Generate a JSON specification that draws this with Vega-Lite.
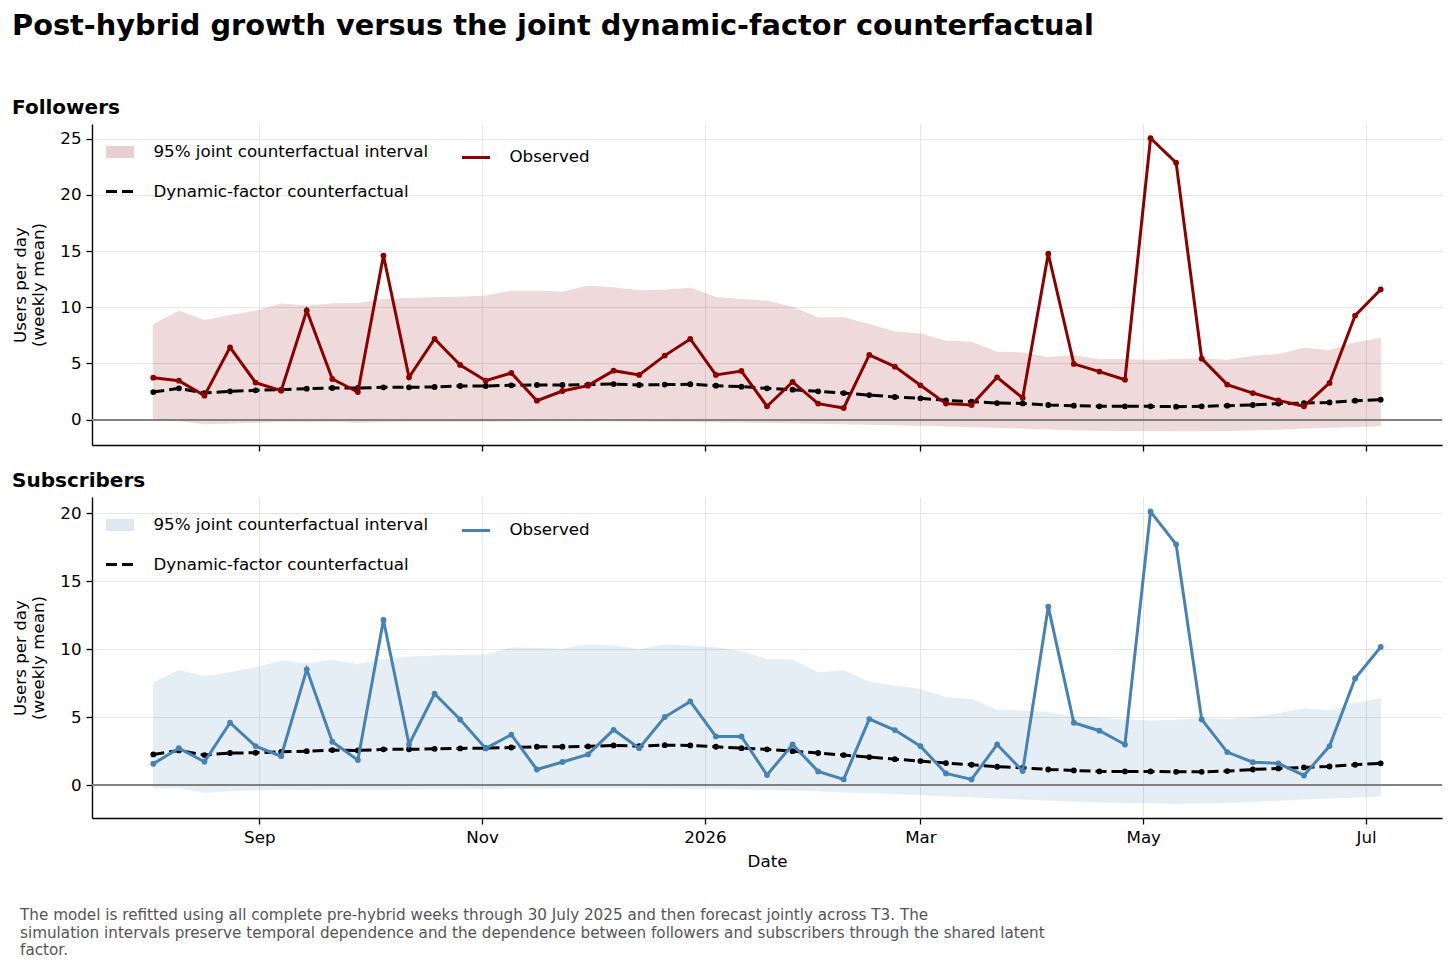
{
  "$schema": "https://vega.github.io/schema/vega-lite/v6.json",
  "padding": {"left": 12, "top": 12, "right": 10, "bottom": 5},
  "background": "white",
  "title": {
    "text": "Post-hybrid growth versus the joint dynamic-factor counterfactual",
    "anchor": "start",
    "fontSize": 28.8,
    "fontWeight": "bold",
    "color": "black",
    "offset": 57
  },
  "config": {
    "font": "DejaVu Sans",
    "view": {"stroke": null},
    "axis": {
      "labelFont": "DejaVu Sans",
      "labelFontSize": 16.7,
      "labelColor": "black",
      "titleFont": "DejaVu Sans",
      "titleFontSize": 16.7,
      "titleFontWeight": "normal",
      "titleColor": "black",
      "tickColor": "black",
      "domainColor": "black",
      "tickSize": 6,
      "tickWidth": 1.3,
      "domainWidth": 1.4,
      "gridColor": "#e6e6e6",
      "gridWidth": 1,
      "labelPadding": 5
    },
    "legend": {
      "orient": "top-left",
      "title": null,
      "columns": 2,
      "offset": 8,
      "padding": 0,
      "columnPadding": 27,
      "rowPadding": -16,
      "symbolType": "stroke",
      "symbolSize": 784,
      "labelFont": "DejaVu Sans",
      "labelFontSize": 16.7,
      "labelColor": "black",
      "labelOffset": 13.4,
      "labelLimit": 0
    }
  },
  "datasets": {
    "followers": [
      {"date": "2025-08-03", "observed": 3.74, "cf": 2.46, "lo": 0.0, "hi": 8.46},
      {"date": "2025-08-10", "observed": 3.47, "cf": 2.79, "lo": -0.09, "hi": 9.65},
      {"date": "2025-08-17", "observed": 2.14, "cf": 2.37, "lo": -0.36, "hi": 8.82},
      {"date": "2025-08-24", "observed": 6.44, "cf": 2.52, "lo": -0.30, "hi": 9.26},
      {"date": "2025-08-31", "observed": 3.30, "cf": 2.61, "lo": -0.22, "hi": 9.65},
      {"date": "2025-09-07", "observed": 2.58, "cf": 2.67, "lo": -0.15, "hi": 10.3},
      {"date": "2025-09-14", "observed": 9.71, "cf": 2.76, "lo": -0.18, "hi": 10.1},
      {"date": "2025-09-21", "observed": 3.62, "cf": 2.82, "lo": -0.15, "hi": 10.3},
      {"date": "2025-09-28", "observed": 2.46, "cf": 2.82, "lo": -0.22, "hi": 10.33},
      {"date": "2025-10-05", "observed": 14.6, "cf": 2.88, "lo": -0.18, "hi": 10.69},
      {"date": "2025-10-12", "observed": 3.77, "cf": 2.88, "lo": -0.15, "hi": 10.78},
      {"date": "2025-10-19", "observed": 7.18, "cf": 2.91, "lo": -0.15, "hi": 10.84},
      {"date": "2025-10-26", "observed": 4.87, "cf": 3.0, "lo": -0.14, "hi": 10.9},
      {"date": "2025-11-02", "observed": 3.47, "cf": 3.0, "lo": -0.14, "hi": 10.99},
      {"date": "2025-11-09", "observed": 4.16, "cf": 3.06, "lo": -0.12, "hi": 11.43},
      {"date": "2025-11-16", "observed": 1.69, "cf": 3.09, "lo": -0.1, "hi": 11.43},
      {"date": "2025-11-23", "observed": 2.55, "cf": 3.09, "lo": -0.09, "hi": 11.34},
      {"date": "2025-11-30", "observed": 3.03, "cf": 3.12, "lo": -0.1, "hi": 11.88},
      {"date": "2025-12-07", "observed": 4.36, "cf": 3.17, "lo": -0.11, "hi": 11.73},
      {"date": "2025-12-14", "observed": 3.98, "cf": 3.09, "lo": -0.12, "hi": 11.46},
      {"date": "2025-12-21", "observed": 5.70, "cf": 3.12, "lo": -0.15, "hi": 11.52},
      {"date": "2025-12-28", "observed": 7.18, "cf": 3.15, "lo": -0.17, "hi": 11.7},
      {"date": "2026-01-04", "observed": 3.98, "cf": 3.03, "lo": -0.19, "hi": 10.87},
      {"date": "2026-01-11", "observed": 4.33, "cf": 2.94, "lo": -0.21, "hi": 10.69},
      {"date": "2026-01-18", "observed": 1.19, "cf": 2.79, "lo": -0.25, "hi": 10.54},
      {"date": "2026-01-25", "observed": 3.36, "cf": 2.67, "lo": -0.28, "hi": 10.0},
      {"date": "2026-02-01", "observed": 1.43, "cf": 2.52, "lo": -0.32, "hi": 9.06},
      {"date": "2026-02-08", "observed": 1.04, "cf": 2.37, "lo": -0.36, "hi": 9.06},
      {"date": "2026-02-15", "observed": 5.76, "cf": 2.19, "lo": -0.4, "hi": 8.46},
      {"date": "2026-02-22", "observed": 4.72, "cf": 2.02, "lo": -0.45, "hi": 7.81},
      {"date": "2026-03-01", "observed": 3.06, "cf": 1.90, "lo": -0.5, "hi": 7.63},
      {"date": "2026-03-08", "observed": 1.43, "cf": 1.72, "lo": -0.55, "hi": 6.98},
      {"date": "2026-03-15", "observed": 1.31, "cf": 1.60, "lo": -0.62, "hi": 6.89},
      {"date": "2026-03-22", "observed": 3.77, "cf": 1.48, "lo": -0.68, "hi": 6.0},
      {"date": "2026-03-29", "observed": 1.93, "cf": 1.45, "lo": -0.74, "hi": 5.94},
      {"date": "2026-04-05", "observed": 14.76, "cf": 1.31, "lo": -0.82, "hi": 5.52},
      {"date": "2026-04-12", "observed": 4.96, "cf": 1.25, "lo": -0.9, "hi": 5.70},
      {"date": "2026-04-19", "observed": 4.28, "cf": 1.19, "lo": -0.93, "hi": 5.34},
      {"date": "2026-04-26", "observed": 3.56, "cf": 1.19, "lo": -0.95, "hi": 5.34},
      {"date": "2026-05-03", "observed": 25.03, "cf": 1.19, "lo": -0.97, "hi": 5.28},
      {"date": "2026-05-10", "observed": 22.86, "cf": 1.16, "lo": -0.98, "hi": 5.34},
      {"date": "2026-05-17", "observed": 5.43, "cf": 1.19, "lo": -0.98, "hi": 5.4},
      {"date": "2026-05-24", "observed": 3.12, "cf": 1.25, "lo": -0.95, "hi": 5.28},
      {"date": "2026-05-31", "observed": 2.37, "cf": 1.31, "lo": -0.9, "hi": 5.64},
      {"date": "2026-06-07", "observed": 1.72, "cf": 1.43, "lo": -0.84, "hi": 5.79},
      {"date": "2026-06-14", "observed": 1.19, "cf": 1.48, "lo": -0.74, "hi": 6.35},
      {"date": "2026-06-21", "observed": 3.27, "cf": 1.54, "lo": -0.68, "hi": 6.15},
      {"date": "2026-06-28", "observed": 9.26, "cf": 1.69, "lo": -0.6, "hi": 6.83},
      {"date": "2026-07-05", "observed": 11.58, "cf": 1.78, "lo": -0.53, "hi": 7.24}
    ],
    "subscribers": [
      {"date": "2025-08-03", "observed": 1.57, "cf": 2.26, "lo": -0.2, "hi": 7.53},
      {"date": "2025-08-10", "observed": 2.72, "cf": 2.55, "lo": -0.2, "hi": 8.44},
      {"date": "2025-08-17", "observed": 1.72, "cf": 2.21, "lo": -0.52, "hi": 7.98},
      {"date": "2025-08-24", "observed": 4.59, "cf": 2.36, "lo": -0.42, "hi": 8.27},
      {"date": "2025-08-31", "observed": 2.87, "cf": 2.38, "lo": -0.35, "hi": 8.64},
      {"date": "2025-09-07", "observed": 2.13, "cf": 2.45, "lo": -0.3, "hi": 9.13},
      {"date": "2025-09-14", "observed": 8.52, "cf": 2.50, "lo": -0.32, "hi": 8.93},
      {"date": "2025-09-21", "observed": 3.19, "cf": 2.58, "lo": -0.27, "hi": 9.18},
      {"date": "2025-09-28", "observed": 1.84, "cf": 2.55, "lo": -0.3, "hi": 8.88},
      {"date": "2025-10-05", "observed": 12.15, "cf": 2.63, "lo": -0.3, "hi": 9.25},
      {"date": "2025-10-12", "observed": 2.99, "cf": 2.63, "lo": -0.28, "hi": 9.42},
      {"date": "2025-10-19", "observed": 6.72, "cf": 2.67, "lo": -0.27, "hi": 9.50},
      {"date": "2025-10-26", "observed": 4.83, "cf": 2.70, "lo": -0.27, "hi": 9.55},
      {"date": "2025-11-02", "observed": 2.70, "cf": 2.72, "lo": -0.25, "hi": 9.57},
      {"date": "2025-11-09", "observed": 3.71, "cf": 2.77, "lo": -0.22, "hi": 10.09},
      {"date": "2025-11-16", "observed": 1.15, "cf": 2.82, "lo": -0.22, "hi": 10.06},
      {"date": "2025-11-23", "observed": 1.70, "cf": 2.82, "lo": -0.2, "hi": 9.99},
      {"date": "2025-11-30", "observed": 2.26, "cf": 2.85, "lo": -0.2, "hi": 10.33},
      {"date": "2025-12-07", "observed": 4.07, "cf": 2.92, "lo": -0.2, "hi": 10.23},
      {"date": "2025-12-14", "observed": 2.72, "cf": 2.87, "lo": -0.2, "hi": 9.96},
      {"date": "2025-12-21", "observed": 5.01, "cf": 2.94, "lo": -0.22, "hi": 10.31},
      {"date": "2025-12-28", "observed": 6.16, "cf": 2.92, "lo": -0.23, "hi": 10.23},
      {"date": "2026-01-04", "observed": 3.58, "cf": 2.82, "lo": -0.25, "hi": 10.09},
      {"date": "2026-01-11", "observed": 3.58, "cf": 2.72, "lo": -0.28, "hi": 9.82},
      {"date": "2026-01-18", "observed": 0.74, "cf": 2.63, "lo": -0.32, "hi": 9.23},
      {"date": "2026-01-25", "observed": 2.99, "cf": 2.50, "lo": -0.37, "hi": 9.20},
      {"date": "2026-02-01", "observed": 1.01, "cf": 2.36, "lo": -0.42, "hi": 8.27},
      {"date": "2026-02-08", "observed": 0.42, "cf": 2.21, "lo": -0.5, "hi": 8.42},
      {"date": "2026-02-15", "observed": 4.86, "cf": 2.06, "lo": -0.56, "hi": 7.58},
      {"date": "2026-02-22", "observed": 4.05, "cf": 1.91, "lo": -0.62, "hi": 7.29},
      {"date": "2026-03-01", "observed": 2.87, "cf": 1.77, "lo": -0.7, "hi": 7.04},
      {"date": "2026-03-08", "observed": 0.86, "cf": 1.62, "lo": -0.78, "hi": 6.43},
      {"date": "2026-03-15", "observed": 0.42, "cf": 1.50, "lo": -0.86, "hi": 6.31},
      {"date": "2026-03-22", "observed": 2.99, "cf": 1.35, "lo": -0.95, "hi": 5.50},
      {"date": "2026-03-29", "observed": 1.03, "cf": 1.27, "lo": -1.02, "hi": 5.45},
      {"date": "2026-04-05", "observed": 13.13, "cf": 1.15, "lo": -1.1, "hi": 5.33},
      {"date": "2026-04-12", "observed": 4.59, "cf": 1.08, "lo": -1.18, "hi": 5.01},
      {"date": "2026-04-19", "observed": 4.0, "cf": 1.01, "lo": -1.24, "hi": 4.96},
      {"date": "2026-04-26", "observed": 2.99, "cf": 1.01, "lo": -1.28, "hi": 4.79},
      {"date": "2026-05-03", "observed": 20.12, "cf": 1.01, "lo": -1.3, "hi": 4.71},
      {"date": "2026-05-10", "observed": 17.72, "cf": 0.98, "lo": -1.35, "hi": 4.76},
      {"date": "2026-05-17", "observed": 4.83, "cf": 0.98, "lo": -1.32, "hi": 4.88},
      {"date": "2026-05-24", "observed": 2.43, "cf": 1.03, "lo": -1.28, "hi": 4.83},
      {"date": "2026-05-31", "observed": 1.69, "cf": 1.15, "lo": -1.2, "hi": 4.96},
      {"date": "2026-06-07", "observed": 1.60, "cf": 1.23, "lo": -1.12, "hi": 5.25},
      {"date": "2026-06-14", "observed": 0.71, "cf": 1.30, "lo": -1.02, "hi": 5.62},
      {"date": "2026-06-21", "observed": 2.87, "cf": 1.37, "lo": -0.95, "hi": 5.45},
      {"date": "2026-06-28", "observed": 7.85, "cf": 1.50, "lo": -0.88, "hi": 6.01},
      {"date": "2026-07-05", "observed": 10.16, "cf": 1.60, "lo": -0.8, "hi": 6.36}
    ]
  },
  "vconcat": [
    {
      "title": {
        "text": [
          "The model is refitted using all complete pre-hybrid weeks through 30 July 2025 and then forecast jointly across T3. The",
          "simulation intervals preserve temporal dependence and the dependence between followers and subscribers through the shared latent",
          "factor."
        ],
        "orient": "bottom",
        "anchor": "start",
        "fontSize": 15.2,
        "fontWeight": "normal",
        "color": "#555555",
        "lineHeight": 17.5,
        "offset": 38,
        "dx": 8
      },
      "spacing": 19,
      "resolve": {
        "scale": {"color": "independent", "y": "independent", "strokeDash": "independent", "opacity": "independent", "strokeWidth": "independent"},
        "legend": {"color": "independent", "strokeDash": "independent", "opacity": "independent", "strokeWidth": "independent"}
      },
      "vconcat": [
        {
          "title": {"text": "Followers", "anchor": "start", "fontSize": 20, "fontWeight": "bold", "color": "black", "offset": 6},
          "width": 1350,
          "height": 321,
          "data": {"name": "followers"},
          "layer": [
            {
              "mark": {"type": "area", "opacity": 0.14, "stroke": "#8b0000", "strokeWidth": 1},
              "encoding": {
                "x": {
                  "field": "date", "type": "temporal", "title": null,
                  "scale": {"type": "utc", "domain": [{"year": 2025, "month": 7, "date": 17, "hours": 5, "utc": true}, {"year": 2026, "month": 7, "date": 21, "hours": 19, "utc": true}]},
                  "axis": {"labels": false, "values": [{"year": 2025, "month": 9, "date": 1, "utc": true}, {"year": 2025, "month": 11, "date": 1, "utc": true}, {"year": 2026, "month": 1, "date": 1, "utc": true}, {"year": 2026, "month": 3, "date": 1, "utc": true}, {"year": 2026, "month": 5, "date": 1, "utc": true}, {"year": 2026, "month": 7, "date": 1, "utc": true}]}
                },
                "y": {
                  "field": "lo", "type": "quantitative", "title": ["Users per day", "(weekly mean)"],
                  "scale": {"domain": [-2.25, 26.3], "nice": false, "zero": false},
                  "axis": {"values": [0, 5, 10, 15, 20, 25], "titlePadding": 12}
                },
                "y2": {"field": "hi"},
                "color": {
                  "datum": "95% joint counterfactual interval", "type": "nominal",
                  "scale": {"domain": ["95% joint counterfactual interval", "Dynamic-factor counterfactual", "Observed"], "range": ["#8b0000", "black", "#8b0000"]},
                  "legend": {"symbolType": "stroke"}
                }
              }
            },
            {
              "mark": {"type": "rule", "color": "#808080", "strokeWidth": 1.3},
              "encoding": {"y": {"datum": 0}}
            },
            {
              "mark": {"type": "line"},
              "encoding": {
                "x": {"field": "date", "type": "temporal"},
                "y": {"field": "cf", "type": "quantitative", "title": ["Users per day", "(weekly mean)"]},
                "color": {
                  "datum": "Dynamic-factor counterfactual", "type": "nominal",
                  "scale": {"domain": ["95% joint counterfactual interval", "Dynamic-factor counterfactual", "Observed"], "range": ["#8b0000", "black", "#8b0000"]},
                  "legend": {"symbolType": "stroke"}
                },
                "strokeDash": {
                  "datum": "Dynamic-factor counterfactual", "type": "nominal",
                  "scale": {"domain": ["95% joint counterfactual interval", "Dynamic-factor counterfactual", "Observed"], "range": [[1, 0], [11, 5], [1, 0]]},
                  "legend": {"symbolType": "stroke"}
                },
                "opacity": {
                  "datum": "Dynamic-factor counterfactual", "type": "nominal",
                  "scale": {"type": "ordinal", "domain": ["95% joint counterfactual interval", "Dynamic-factor counterfactual", "Observed"], "range": [0.18, 1, 1]},
                  "legend": {"symbolType": "stroke"}
                },
                "strokeWidth": {
                  "datum": "Dynamic-factor counterfactual", "type": "nominal",
                  "scale": {"type": "ordinal", "domain": ["95% joint counterfactual interval", "Dynamic-factor counterfactual", "Observed"], "range": [12, 3, 3]},
                  "legend": {"symbolType": "stroke"}
                }
              }
            },
            {
              "mark": {"type": "point", "filled": true, "size": 34, "opacity": 1},
              "encoding": {
                "x": {"field": "date", "type": "temporal"},
                "y": {"field": "cf", "type": "quantitative", "title": ["Users per day", "(weekly mean)"]},
                "color": {"datum": "Dynamic-factor counterfactual", "type": "nominal", "legend": {"symbolType": "stroke"}}
              }
            },
            {
              "mark": {"type": "line", "strokeWidth": 3},
              "encoding": {
                "x": {"field": "date", "type": "temporal"},
                "y": {"field": "observed", "type": "quantitative", "title": ["Users per day", "(weekly mean)"]},
                "color": {"datum": "Observed", "type": "nominal", "legend": {"symbolType": "stroke"}}
              }
            },
            {
              "mark": {"type": "point", "filled": true, "size": 34, "opacity": 1},
              "encoding": {
                "x": {"field": "date", "type": "temporal"},
                "y": {"field": "observed", "type": "quantitative", "title": ["Users per day", "(weekly mean)"]},
                "color": {"datum": "Observed", "type": "nominal", "legend": {"symbolType": "stroke"}}
              }
            }
          ]
        },
        {
          "title": {"text": "Subscribers", "anchor": "start", "fontSize": 20, "fontWeight": "bold", "color": "black", "offset": 6},
          "width": 1350,
          "height": 321,
          "data": {"name": "subscribers"},
          "layer": [
            {
              "mark": {"type": "area", "opacity": 0.13, "stroke": "#4682b4", "strokeWidth": 1},
              "encoding": {
                "x": {
                  "field": "date", "type": "temporal", "title": "Date",
                  "scale": {"type": "utc", "domain": [{"year": 2025, "month": 7, "date": 17, "hours": 5, "utc": true}, {"year": 2026, "month": 7, "date": 21, "hours": 19, "utc": true}]},
                  "axis": {
                    "values": [{"year": 2025, "month": 9, "date": 1, "utc": true}, {"year": 2025, "month": 11, "date": 1, "utc": true}, {"year": 2026, "month": 1, "date": 1, "utc": true}, {"year": 2026, "month": 3, "date": 1, "utc": true}, {"year": 2026, "month": 5, "date": 1, "utc": true}, {"year": 2026, "month": 7, "date": 1, "utc": true}],
                    "labelExpr": "utcmonth(datum.value) === 0 ? utcFormat(datum.value, '%Y') : utcFormat(datum.value, '%b')",
                    "titlePadding": 8
                  }
                },
                "y": {
                  "field": "lo", "type": "quantitative", "title": ["Users per day", "(weekly mean)"],
                  "scale": {"domain": [-2.42, 21.2], "nice": false, "zero": false},
                  "axis": {"values": [0, 5, 10, 15, 20], "titlePadding": 12}
                },
                "y2": {"field": "hi"},
                "color": {
                  "datum": "95% joint counterfactual interval", "type": "nominal",
                  "scale": {"domain": ["95% joint counterfactual interval", "Dynamic-factor counterfactual", "Observed"], "range": ["#4682b4", "black", "#4682b4"]},
                  "legend": {"symbolType": "stroke"}
                }
              }
            },
            {
              "mark": {"type": "rule", "color": "#808080", "strokeWidth": 1.3},
              "encoding": {"y": {"datum": 0}}
            },
            {
              "mark": {"type": "line"},
              "encoding": {
                "x": {"field": "date", "type": "temporal"},
                "y": {"field": "cf", "type": "quantitative", "title": ["Users per day", "(weekly mean)"]},
                "color": {
                  "datum": "Dynamic-factor counterfactual", "type": "nominal",
                  "scale": {"domain": ["95% joint counterfactual interval", "Dynamic-factor counterfactual", "Observed"], "range": ["#4682b4", "black", "#4682b4"]},
                  "legend": {"symbolType": "stroke"}
                },
                "strokeDash": {
                  "datum": "Dynamic-factor counterfactual", "type": "nominal",
                  "scale": {"domain": ["95% joint counterfactual interval", "Dynamic-factor counterfactual", "Observed"], "range": [[1, 0], [11, 5], [1, 0]]},
                  "legend": {"symbolType": "stroke"}
                },
                "opacity": {
                  "datum": "Dynamic-factor counterfactual", "type": "nominal",
                  "scale": {"type": "ordinal", "domain": ["95% joint counterfactual interval", "Dynamic-factor counterfactual", "Observed"], "range": [0.18, 1, 1]},
                  "legend": {"symbolType": "stroke"}
                },
                "strokeWidth": {
                  "datum": "Dynamic-factor counterfactual", "type": "nominal",
                  "scale": {"type": "ordinal", "domain": ["95% joint counterfactual interval", "Dynamic-factor counterfactual", "Observed"], "range": [12, 3, 3]},
                  "legend": {"symbolType": "stroke"}
                }
              }
            },
            {
              "mark": {"type": "point", "filled": true, "size": 34, "opacity": 1},
              "encoding": {
                "x": {"field": "date", "type": "temporal"},
                "y": {"field": "cf", "type": "quantitative", "title": ["Users per day", "(weekly mean)"]},
                "color": {"datum": "Dynamic-factor counterfactual", "type": "nominal", "legend": {"symbolType": "stroke"}}
              }
            },
            {
              "mark": {"type": "line", "strokeWidth": 3},
              "encoding": {
                "x": {"field": "date", "type": "temporal"},
                "y": {"field": "observed", "type": "quantitative", "title": ["Users per day", "(weekly mean)"]},
                "color": {"datum": "Observed", "type": "nominal", "legend": {"symbolType": "stroke"}}
              }
            },
            {
              "mark": {"type": "point", "filled": true, "size": 34, "opacity": 1},
              "encoding": {
                "x": {"field": "date", "type": "temporal"},
                "y": {"field": "observed", "type": "quantitative", "title": ["Users per day", "(weekly mean)"]},
                "color": {"datum": "Observed", "type": "nominal", "legend": {"symbolType": "stroke"}}
              }
            }
          ]
        }
      ]
    }
  ]
}
